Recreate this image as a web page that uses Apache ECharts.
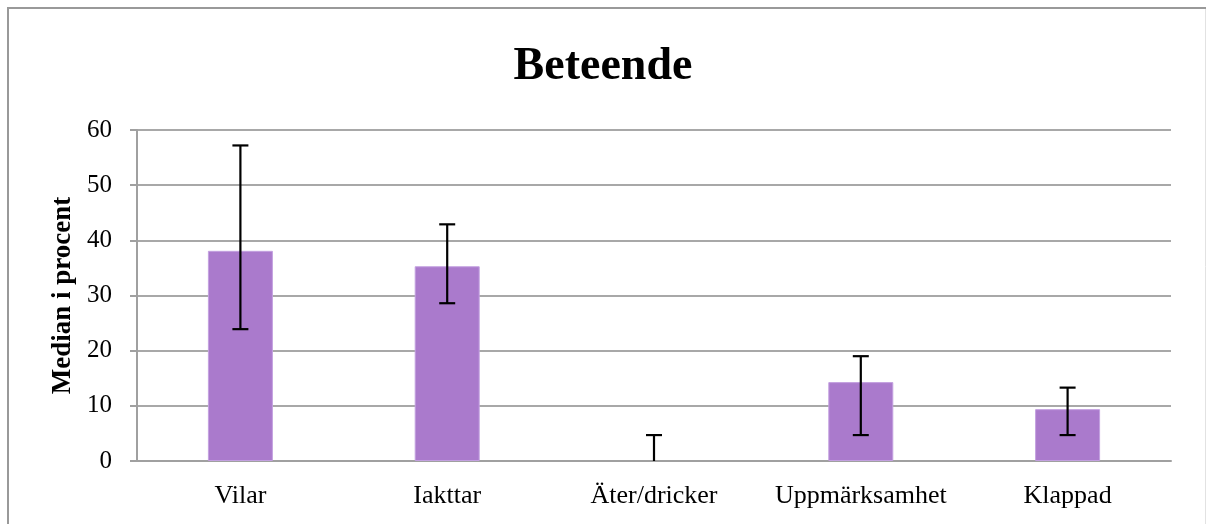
<!DOCTYPE html>
<html>
<head>
<meta charset="utf-8">
<script src="https://cdn.jsdelivr.net/npm/echarts@6/dist/echarts.min.js"></script>
<style>
  html, body { margin: 0; padding: 0; background: #fff; }
  #chart { width: 1206px; height: 524px; }
</style>
</head>
<body>
<div id="chart"></div>
<script>
const titleText = 'Beteende';
const yAxisName = 'Median i procent';
const categories = ['Vilar', 'Iakttar', 'Äter/dricker', 'Uppmärksamhet', 'Klappad'];
const medians = [38.1, 35.3, 0, 14.3, 9.4];
const errLow = [23.9, 28.6, 0, 4.7, 4.7];
const errHigh = [57.2, 42.9, 4.7, 19.0, 13.3];

const FONT = '"Liberation Serif", "Times New Roman", serif';
const chart = echarts.init(document.getElementById('chart'), null, { renderer: 'canvas' });

const errData = categories.map((c, i) => [i, errLow[i], errHigh[i]]);
const barData = medians.map(v => ({ value: v, itemStyle: v === 0 ? { borderWidth: 0 } : {} }));

chart.setOption({
  animation: false,
  backgroundColor: '#ffffff',
  title: {
    text: titleText,
    left: 'center',
    top: 39,
    textStyle: { fontFamily: FONT, fontSize: 46, fontWeight: 'bold', color: '#000' }
  },
  graphic: [
    { type: 'line', shape: { x1: 7, y1: 8, x2: 1206, y2: 8 }, style: { stroke: '#999', lineWidth: 2 } },
    { type: 'line', shape: { x1: 8, y1: 7, x2: 8, y2: 524 }, style: { stroke: '#999', lineWidth: 2 } },
    { type: 'line', shape: { x1: 1205.5, y1: 9, x2: 1205.5, y2: 524 }, style: { stroke: '#e2e2e2', lineWidth: 1 } }
  ],
  grid: { left: 137, top: 130, width: 1034, height: 331, containLabel: false },
  xAxis: {
    type: 'category',
    data: categories,
    boundaryGap: true,
    axisLine: { show: true, lineStyle: { color: '#a0a0a0', width: 2 } },
    axisTick: { show: false },
    axisLabel: { fontFamily: FONT, fontSize: 26, color: '#000', margin: 22, interval: 0 }
  },
  yAxis: {
    type: 'value',
    min: 0, max: 60, interval: 10,
    name: yAxisName,
    nameLocation: 'middle',
    nameGap: 60,
    nameTextStyle: { fontFamily: FONT, fontSize: 27, fontWeight: 'bold', color: '#000' },
    axisLine: { show: true, lineStyle: { color: '#a0a0a0', width: 2 } },
    axisTick: { show: true, length: 7, lineStyle: { color: '#a0a0a0', width: 2 } },
    axisLabel: { fontFamily: FONT, fontSize: 25, color: '#000', margin: 25 },
    splitLine: { show: true, lineStyle: { color: '#a8a8a8', width: 2 } }
  },
  series: [
    {
      type: 'bar',
      data: barData,
      barWidth: 65,
      itemStyle: { color: '#aa7acc', borderColor: '#c3a0e0', borderWidth: 1 },
      z: 2
    },
    {
      type: 'custom',
      data: errData,
      z: 5,
      renderItem: function (params, api) {
        const x = api.value(0);
        const lo = api.coord([x, api.value(1)]);
        const hi = api.coord([x, api.value(2)]);
        const hw = 8;
        const style = { stroke: '#000', lineWidth: 2.2 };
        const children = [
          { type: 'line', shape: { x1: hi[0], y1: hi[1], x2: lo[0], y2: lo[1] }, style: style },
          { type: 'line', shape: { x1: hi[0] - hw, y1: hi[1], x2: hi[0] + hw, y2: hi[1] }, style: style }
        ];
        if (api.value(1) > 0) {
          children.push({ type: 'line', shape: { x1: lo[0] - hw, y1: lo[1], x2: lo[0] + hw, y2: lo[1] }, style: style });
        }
        return { type: 'group', children: children };
      }
    }
  ]
});
</script>
</body>
</html>
